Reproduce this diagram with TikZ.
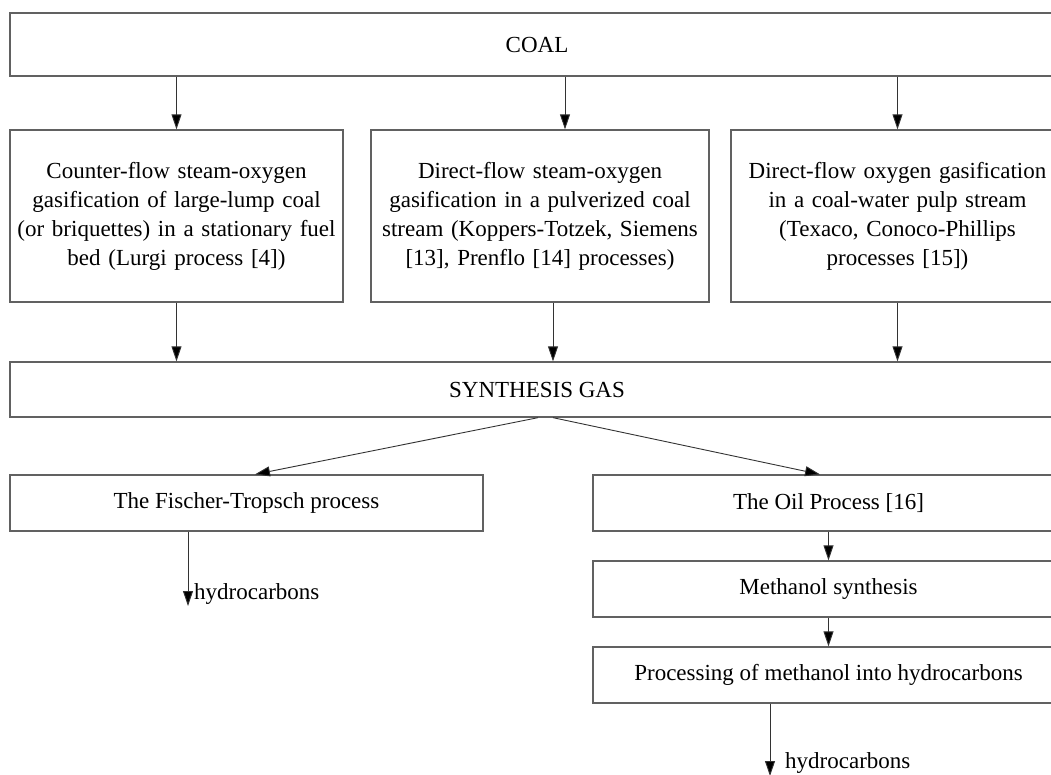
\documentclass[tikz,border=0pt]{standalone}
\usepackage{fontspec}
\setmainfont{Liberation Serif}
\usetikzlibrary{arrows.meta}
\begin{document}
\begin{tikzpicture}[x=1pt,y=-1pt,
  box/.style={draw=black!62, line width=1.3pt, inner sep=0pt, align=center,
    font=\fontsize{23}{29}\selectfont},
  arr/.style={draw=black!80, line width=0.9pt, -{Triangle[length=15pt,width=10pt,fill=black]}},
  lbl/.style={font=\fontsize{23}{29}\selectfont, inner sep=0pt, anchor=base west}]
\useasboundingbox (0,0) rectangle (1051,774);
\clip (0,0) rectangle (1051,774);
% top level
\node[box, minimum width=1054pt, minimum height=63pt] (coal) at (537,44.5) {COAL};
% gasification methods
\node[box, minimum width=333pt, minimum height=172pt, text width=330pt] (g1) at (176.5,216)
  {Counter-flow steam-oxygen\\gasification of large-lump coal\\(or briquettes) in a stationary fuel\\bed (Lurgi process [4])};
\node[box, minimum width=338pt, minimum height=172pt, text width=334pt] (g2) at (540,216)
  {Direct-flow steam-oxygen\\gasification in a pulverized coal\\stream (Koppers-Totzek, Siemens\\{[13]}, Prenflo [14] processes)};
\node[box, minimum width=333pt, minimum height=172pt, text width=330pt] (g3) at (897.5,216)
  {Direct-flow oxygen gasification\\in a coal-water pulp stream\\(Texaco, Conoco-Phillips\\processes [15])};
% synthesis gas
\node[box, minimum width=1054pt, minimum height=55pt] (sg) at (537,389.5) {SYNTHESIS GAS};
% processes
\node[box, minimum width=473pt, minimum height=56pt] (ft) at (246.5,503) {The Fischer-Tropsch process};
\node[box, minimum width=471pt, minimum height=56pt] (oil) at (828.5,503) {The Oil Process [16]};
\node[box, minimum width=471pt, minimum height=56pt] (meth) at (828.5,589) {Methanol synthesis};
\node[box, minimum width=471pt, minimum height=56pt] (proc) at (828.5,675) {Processing of methanol into hydrocarbons};
% free ends of the product arrows
\coordinate (ftend) at (188,606);
\coordinate (procend) at (770,776);
% connectors
\draw[arr] (coal.south -| g1.north) -- (g1.north);
\draw[arr] (coal.south -| 565,0) -- (g2.north -| 565,0);
\draw[arr] (coal.south -| g3.north) -- (g3.north);
\draw[arr] (g1.south) -- (sg.north -| g1.south);
\draw[arr] (g2.south -| 553,0) -- (sg.north -| 553,0);
\draw[arr] (g3.south) -- (sg.north -| g3.south);
\draw[arr] (sg.south -| 538,0) -- (ft.north -| 255,0);
\draw[arr] (sg.south -| 553,0) -- (oil.north -| 820,0);
\draw[arr] (oil.south) -- (meth.north);
\draw[arr] (meth.south) -- (proc.north);
\draw[arr] (ft.south -| ftend) -- (ftend);
\draw[arr] (proc.south -| procend) -- (procend);
% product labels
\node[lbl] (h1) at (194,599) {hydrocarbons};
\node[lbl] (h2) at (785,768) {hydrocarbons};
\end{tikzpicture}
\end{document}
